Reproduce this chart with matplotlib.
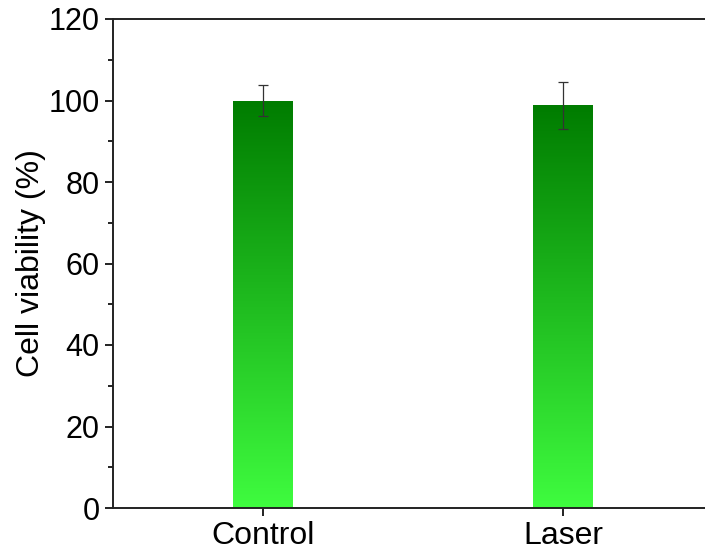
"""Cell viability bar chart with gradient-filled bars."""

import matplotlib
matplotlib.use("Agg")
import matplotlib.pyplot as plt
import numpy as np
from matplotlib.colors import LinearSegmentedColormap
from matplotlib.ticker import MultipleLocator

groups = ["Control", "Laser"]
viability = [100.0, 98.8]
viability_err = [3.7, 5.7]

plt.rcParams["font.family"] = ["Liberation Sans", "DejaVu Sans"]

fig = plt.figure(figsize=(7.05, 5.54), dpi=100)
ax = fig.add_axes([113 / 705, 46 / 554, 600 / 705, 489 / 554])

x = np.arange(len(groups))
bars = ax.bar(x, viability, width=0.2, color="none", edgecolor="none", zorder=2)

# vertical gradient, bright green at the bottom to dark green at the top
cmap = LinearSegmentedColormap.from_list("grn", ["#3ffc3f", "#007c00"])
grad = np.linspace(0, 1, 256).reshape(-1, 1)
for bar in bars:
    x0, y0 = bar.get_x(), bar.get_y()
    w, h = bar.get_width(), bar.get_height()
    im = ax.imshow(grad, cmap=cmap, origin="lower", aspect="auto",
                   extent=[x0, x0 + w, y0, y0 + h], zorder=2)
    im.set_clip_path(bar)

ax.errorbar(x, viability, yerr=viability_err, fmt="none", ecolor="#333333",
            elinewidth=0.9, capsize=3.8, capthick=0.9, zorder=3)

ax.set_xlim(-0.5, 1.5)
ax.set_ylim(0, 120)
ax.set_xticks(x)
ax.set_xticklabels(groups, fontsize=23)
ax.yaxis.set_major_locator(MultipleLocator(20))
ax.yaxis.set_minor_locator(MultipleLocator(10))
ax.set_ylabel("Cell viability (%)", fontsize=23, labelpad=2)

ax.spines["right"].set_visible(False)
for side in ["left", "bottom", "top"]:
    ax.spines[side].set_linewidth(1.4)
    ax.spines[side].set_color("#222222")
ax.tick_params(axis="both", which="major", direction="out", length=6,
               width=1.4, color="#222222")
ax.tick_params(axis="y", which="major", labelsize=22)
ax.tick_params(axis="y", which="minor", direction="out", length=3.5,
               width=1.4, color="#222222")
ax.tick_params(axis="x", which="minor", bottom=False)

fig.savefig("out.png", dpi=100)
